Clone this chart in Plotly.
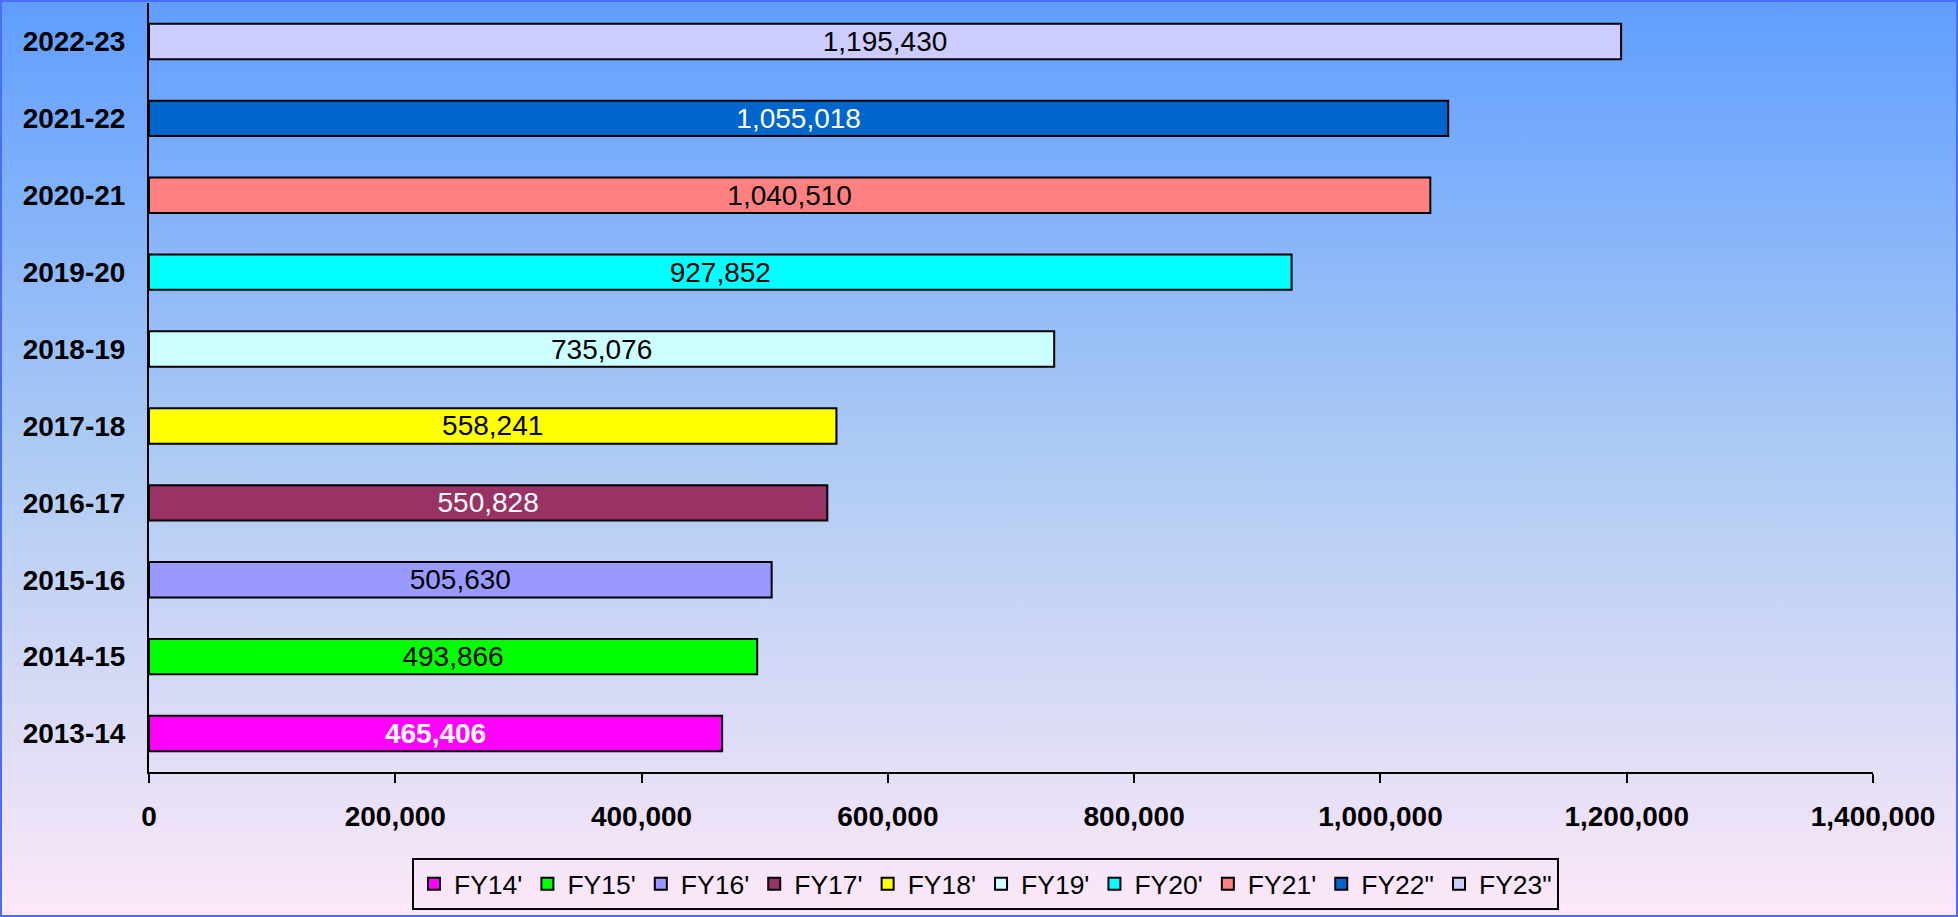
import base64
import plotly.graph_objects as go

# ---- data ----
years = ["2013-14", "2014-15", "2015-16", "2016-17", "2017-18",
         "2018-19", "2019-20", "2020-21", "2021-22", "2022-23"]
series_names = ["FY14'", "FY15'", "FY16'", "FY17'", "FY18'",
                "FY19'", "FY20'", "FY21'", 'FY22"', 'FY23"']
values = [465406, 493866, 505630, 550828, 558241,
          735076, 927852, 1040510, 1055018, 1195430]
x_ticks = [0, 200000, 400000, 600000, 800000, 1000000, 1200000, 1400000]

# ---- styles ----
bar_colors = ["#FF00FF", "#00FF00", "#9999FF", "#993366", "#FFFF00",
              "#CCFFFF", "#00FFFF", "#FF8080", "#0066CC", "#CCCCFF"]
label_colors = ["white", "black", "black", "white", "black",
                "black", "black", "black", "white", "black"]
label_weights = ["bold"] + ["normal"] * 9

W, H = 1958, 917
ML, MR, MT, MB = 149, 85, 3, 145
PW, PH = W - ML - MR, H - MT - MB
FONT = "Liberation Sans, Arial, sans-serif"

svg = f'''<svg xmlns="http://www.w3.org/2000/svg" width="{W}" height="{H}" viewBox="0 0 {W} {H}" preserveAspectRatio="none">
<defs><linearGradient id="g" x1="0" y1="0" x2="0" y2="1">
<stop offset="0" stop-color="#5F9EFF"/>
<stop offset="0.5" stop-color="#AECBF4"/>
<stop offset="1" stop-color="#FDE8F8"/>
</linearGradient></defs>
<rect x="0" y="0" width="{W}" height="{H}" fill="url(#g)"/>
<rect x="1" y="1" width="{W-2}" height="{H-2}" fill="none" stroke="#4A6CFF" stroke-width="2"/>
</svg>'''
bg_src = "data:image/svg+xml;base64," + base64.b64encode(svg.encode()).decode()

fig = go.Figure()
for i, (yr, name, v) in enumerate(zip(years, series_names, values)):
    fig.add_trace(go.Bar(
        y=[yr], x=[v], name=name, orientation="h", width=0.46,
        marker=dict(color=bar_colors[i], line=dict(color="black", width=2)),
        texttemplate="%{x:,.0f}", textposition="inside",
        insidetextanchor="middle", constraintext="none", textangle=0,
        textfont=dict(family=FONT, size=28, color=label_colors[i],
                      weight=label_weights[i]),
        cliponaxis=False,
    ))

fig.update_layout(
    width=W, height=H,
    margin=dict(l=ML, r=MR, t=MT, b=MB, pad=0),
    barmode="overlay",
    paper_bgcolor="#C8D8F4",
    plot_bgcolor="rgba(0,0,0,0)",
    font=dict(family=FONT, color="black"),
    showlegend=True,
    legend=dict(
        orientation="h", x=(985.5 - ML) / PW, xanchor="center",
        y=-(858 - (MT + PH)) / PH, yanchor="top",
        bordercolor="black", borderwidth=2, bgcolor="rgba(0,0,0,0)",
        font=dict(family=FONT, size=26.5, color="black"),
        traceorder="normal",
    ),
    images=[dict(
        source=bg_src, xref="paper", yref="paper",
        x=-ML / PW, y=1 + MT / PH, sizex=W / PW, sizey=H / PH,
        xanchor="left", yanchor="top", sizing="stretch", layer="below",
    )],
    xaxis=dict(
        range=[0, 1400000], tickvals=x_ticks, tickformat=",",
        showgrid=False, zeroline=False,
        showline=True, linecolor="black", linewidth=2,
        ticks="outside", ticklen=9, tickwidth=2, tickcolor="black",
        tickfont=dict(family=FONT, size=28, color="black", weight="bold"),
        ticklabelstandoff=9, fixedrange=True,
    ),
    yaxis=dict(
        type="category", categoryorder="array", categoryarray=years,
        showgrid=False, zeroline=False,
        showline=True, linecolor="black", linewidth=2,
        ticks="", ticklabelstandoff=16,
        tickfont=dict(family=FONT, size=28, color="black", weight="bold"),
        fixedrange=True,
    ),
)

fig.write_html(
    "out.html",
    config={"displayModeBar": False},
    post_script="document.body.style.margin='0';document.body.style.overflow='hidden';",
)
